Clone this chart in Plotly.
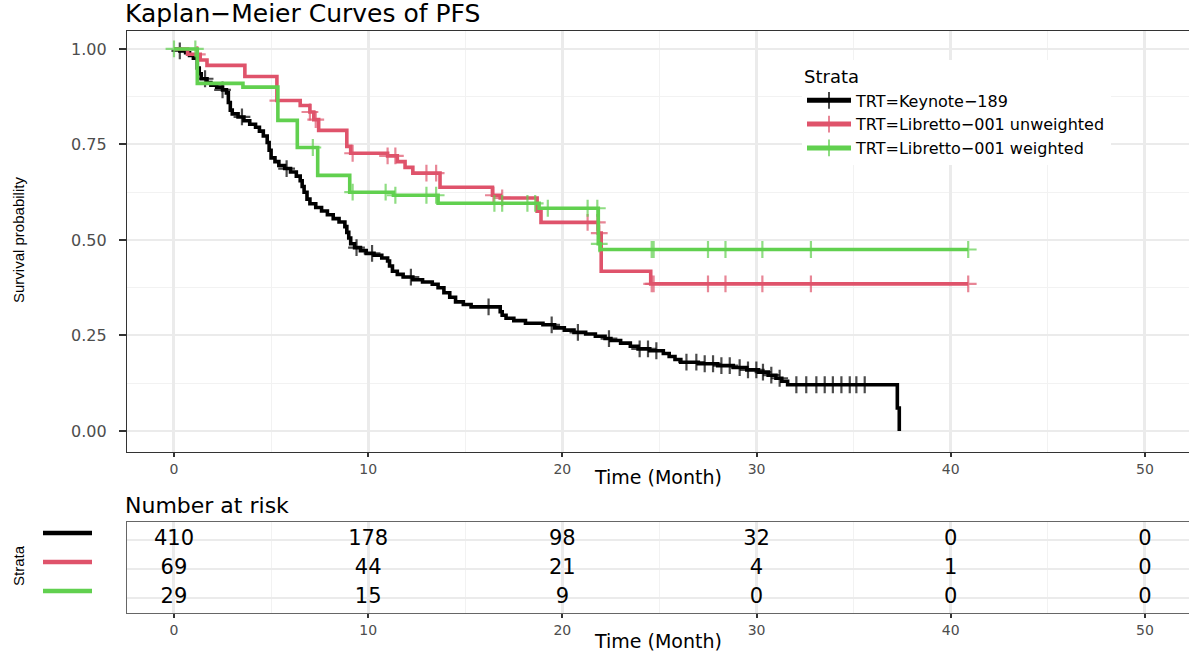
import numpy as np
import plotly.graph_objects as go

W, H = 1189, 652

# ---------------- data ----------------
strata_names = ["TRT=Keynote\u2212189", "TRT=Libretto\u2212001 unweighted", "TRT=Libretto\u2212001 weighted"]
colors = ["#000000", "#DF536B", "#61D04F"]

keynote_t = [0, 0.3, 0.6, 0.8, 1.0, 1.2, 1.3, 1.4, 1.7, 1.9, 2.2, 2.5, 2.7, 2.8, 2.9,
             3.0, 3.3, 3.6, 3.9, 4.2, 4.4, 4.6, 4.8, 4.9, 5.0, 5.2, 5.4, 5.7, 6.0, 6.3,
             6.5, 6.6, 6.7, 6.85, 7.0, 7.3, 7.6, 7.9, 8.2, 8.5, 8.8, 8.9, 9.0, 9.1, 9.3,
             9.6, 9.9, 10.3, 10.7, 11.0, 11.1, 11.25, 11.5, 11.8, 12.3, 12.8, 13.3, 13.6, 13.9, 14.2,
             14.5, 14.9, 15.3, 16.8, 16.9, 17.1, 17.5, 18.1, 19.0, 19.6, 20.1, 20.6, 21.2, 21.7, 22.2,
             22.5, 23.0, 23.5, 23.9, 24.5, 25.2, 25.5, 25.8, 26.1, 27.0, 28.0, 28.8, 29.5, 30.1, 30.6,
             31.0, 31.3, 31.6, 37.25, 37.35]
keynote_s = [1.0, 0.995, 0.99, 0.983, 0.976, 0.95, 0.935, 0.922, 0.912, 0.905, 0.9, 0.893, 0.885, 0.86, 0.84,
             0.83, 0.822, 0.812, 0.803, 0.795, 0.785, 0.772, 0.755, 0.735, 0.715, 0.705, 0.695, 0.687, 0.678, 0.667,
             0.655, 0.64, 0.625, 0.607, 0.595, 0.585, 0.576, 0.566, 0.556, 0.547, 0.535, 0.52, 0.505, 0.49, 0.48,
             0.472, 0.465, 0.46, 0.453, 0.445, 0.432, 0.418, 0.41, 0.403, 0.396, 0.39, 0.384, 0.375, 0.362, 0.35,
             0.338, 0.331, 0.325, 0.312, 0.303, 0.295, 0.289, 0.282, 0.278, 0.27, 0.264, 0.258, 0.254, 0.248, 0.242,
             0.237, 0.23, 0.222, 0.215, 0.21, 0.203, 0.195, 0.187, 0.18, 0.176, 0.171, 0.166, 0.16, 0.154, 0.146,
             0.138, 0.13, 0.121, 0.06, 0.0]
keynote_censor = [0.3, 1.6, 2.5, 3.5, 5.8, 9.4, 10.2, 12.2, 16.2, 19.45, 20.8, 22.4, 23.98, 24.41, 24.84,
                  26.39, 26.9, 27.33, 27.76, 28.19, 28.62, 29.13, 29.56, 29.99, 30.33, 30.76, 31.19,
                  32.05, 32.56, 33.08, 33.51, 33.93, 34.37, 34.8, 35.14, 35.57]

unweighted_t = [0, 0.7, 1.35, 1.7, 3.65, 5.3, 6.5, 7.0, 7.2, 7.45, 8.9, 9.1, 11.0, 11.5, 11.9, 12.3,
                13.7, 16.4, 16.8, 18.7, 18.9, 21.85, 22.0, 24.55]
unweighted_s = [1.0, 0.986, 0.971, 0.957, 0.928, 0.865, 0.852, 0.835, 0.815, 0.787, 0.745, 0.727, 0.72, 0.705, 0.69, 0.675,
                0.638, 0.617, 0.61, 0.575, 0.546, 0.518, 0.418, 0.385]
unweighted_censor = [1.2, 5.35, 7.0, 7.3, 9.2, 11.0, 11.4, 13.0, 13.5, 16.45, 16.9, 21.3, 21.8, 21.9,
                     24.6, 24.7, 27.5, 28.4, 30.3, 32.8, 40.9]

weighted_t = [0, 1.2, 3.55, 5.35, 6.35, 7.4, 9.05, 11.3, 13.6, 18.8, 21.85, 21.95]
weighted_s = [1.0, 0.91, 0.90, 0.813, 0.742, 0.669, 0.625, 0.617, 0.596, 0.583, 0.49, 0.475]
weighted_censor = [0.0, 1.1, 7.15, 9.2, 10.9, 11.4, 13.0, 13.5, 16.5, 16.9, 18.2, 18.6, 19.25, 21.3, 21.8, 21.9,
                   24.6, 24.7, 27.5, 28.4, 30.3, 32.8, 40.9]

risk_times = [0, 10, 20, 30, 40, 50]
risk_keynote = [410, 178, 98, 32, 0, 0]
risk_unweighted = [69, 44, 21, 4, 1, 0]
risk_weighted = [29, 15, 9, 0, 0, 0]

x_ticks = [0, 10, 20, 30, 40, 50]
y_ticks = [0.0, 0.25, 0.50, 0.75, 1.00]

# ---------------- helpers ----------------
FONT = "DejaVu Sans"


def px_x(p):
    return p / W


def px_y(p):
    return 1 - p / H


def km_arrays(ev_t, ev_s, cens_t, msize=12):
    ev_t = np.asarray(ev_t, float)
    ev_s = np.asarray(ev_s, float)
    cens_t = np.asarray(cens_t, float)
    idx = np.searchsorted(ev_t, cens_t, side="right") - 1
    cens_s = ev_s[idx]
    t = np.concatenate([ev_t, cens_t])
    s = np.concatenate([ev_s, cens_s])
    sz = np.concatenate([np.zeros(len(ev_t)), np.full(len(cens_t), msize)])
    order = np.argsort(t, kind="stable")
    return t[order], s[order], sz[order]


fig = go.Figure()

curves = [(keynote_t, keynote_s, keynote_censor),
          (unweighted_t, unweighted_s, unweighted_censor),
          (weighted_t, weighted_s, weighted_censor)]

for (et, es, ct), name, col in zip(curves, strata_names, colors):
    t, s, sz = km_arrays(et, es, ct)
    fig.add_trace(go.Scatter(
        x=t, y=s, mode="lines+markers", name=name,
        line=dict(color=col, width=3.6, shape="hv"),
        marker=dict(symbol="cross-thin", size=sz, color=col,
                    line=dict(color=col, width=2.2)),
        xaxis="x", yaxis="y", hoverinfo="skip",
    ))

# risk table
risk_rows = [risk_keynote, risk_unweighted, risk_weighted]
row_pos = [3, 2, 1]
for vals, yp in zip(risk_rows, row_pos):
    fig.add_trace(go.Scatter(
        x=risk_times, y=[yp] * len(risk_times), mode="text",
        text=[str(v) for v in vals], textposition="middle center",
        textfont=dict(family=FONT, size=21, color="#000000"),
        xaxis="x2", yaxis="y2", showlegend=False, hoverinfo="skip",
    ))

xdom = [px_x(127), 1.0]
xrange_ = [-2.42, 52.27]
grid_major = "#EBEBEB"

axis_common_x = dict(
    range=xrange_, domain=xdom, tickvals=x_ticks, ticks="outside", ticklen=4,
    tickcolor="#333333", tickwidth=1.5,
    tickfont=dict(family=FONT, size=14, color="#4D4D4D"),
    showgrid=True, gridcolor=grid_major, gridwidth=2.6,
    minor=dict(dtick=5, tick0=0, showgrid=True, gridcolor="#F2F2F2", gridwidth=1.2, ticks=""),
    zeroline=False, showline=True, mirror=True,
)

fig.update_layout(
    width=W, height=H, template="none",
    margin=dict(l=0, r=0, t=0, b=0, pad=0),
    paper_bgcolor="white", plot_bgcolor="white",
    xaxis=dict(axis_common_x, anchor="y", linecolor="#333333", linewidth=1.3),
    yaxis=dict(
        domain=[px_y(452), px_y(31)], range=[-0.055, 1.047], anchor="x",
        tickvals=y_ticks, ticktext=["0.00", "0.25", "0.50", "0.75", "1.00"],
        ticks="outside", ticklen=7, tickcolor="#333333", tickwidth=1.5,
        ticklabelstandoff=9,
        tickfont=dict(family=FONT, size=16, color="#4D4D4D"),
        showgrid=True, gridcolor=grid_major, gridwidth=2,
        minor=dict(dtick=0.125, tick0=0, showgrid=True, gridcolor="#F2F2F2", gridwidth=1, ticks=""),
        zeroline=False, showline=True, mirror=False, linecolor="#333333", linewidth=1.3,
    ),
    xaxis2=dict(axis_common_x, anchor="y2", linecolor="#666666", linewidth=1.3),
    yaxis2=dict(
        domain=[px_y(613), px_y(522)], range=[0.483, 3.62], anchor="x2",
        tickvals=row_pos, showticklabels=False, ticks="",
        showgrid=True, gridcolor=grid_major, gridwidth=2,
        zeroline=False, showline=True, mirror=False, linecolor="#666666", linewidth=1.3,
    ),
    showlegend=True,
    legend=dict(
        x=px_x(802), y=px_y(60), xanchor="left", yanchor="top",
        bgcolor="white", borderwidth=0,
        title=dict(text="Strata", font=dict(family=FONT, size=18, color="#000000")),
        font=dict(family=FONT, size=16, color="#000000"),
        itemsizing="constant", itemwidth=44, tracegroupgap=0,
    ),
)

annotations = [
    dict(text="Kaplan\u2212Meier Curves of PFS", x=px_x(123), y=px_y(14), xanchor="left", yanchor="middle",
         font=dict(family=FONT, size=25, color="#000000")),
    dict(text="Survival probability", x=px_x(18), y=px_y(240), textangle=-90,
         xanchor="center", yanchor="middle", font=dict(family="Liberation Sans", size=15, color="#000000")),
    dict(text="Time (Month)", x=px_x(658), y=px_y(477), xanchor="center", yanchor="middle",
         font=dict(family=FONT, size=19, color="#000000")),
    dict(text="Number at risk", x=px_x(123), y=px_y(505), xanchor="left", yanchor="middle",
         font=dict(family=FONT, size=22, color="#000000")),
    dict(text="Time (Month)", x=px_x(658), y=px_y(641), xanchor="center", yanchor="middle",
         font=dict(family=FONT, size=19, color="#000000")),
    dict(text="Strata", x=px_x(18), y=px_y(566), textangle=-90,
         xanchor="center", yanchor="middle", font=dict(family="Liberation Sans", size=15, color="#000000")),
]
for a in annotations:
    a.update(xref="paper", yref="paper", showarrow=False)
fig.update_layout(annotations=annotations)

shapes = []
for col, yp in zip(colors, [533, 562, 591]):
    shapes.append(dict(type="line", xref="paper", yref="paper",
                       x0=px_x(43), x1=px_x(92), y0=px_y(yp), y1=px_y(yp),
                       line=dict(color=col, width=4.5)))
fig.update_layout(shapes=shapes)

fig.write_html("out.html")
